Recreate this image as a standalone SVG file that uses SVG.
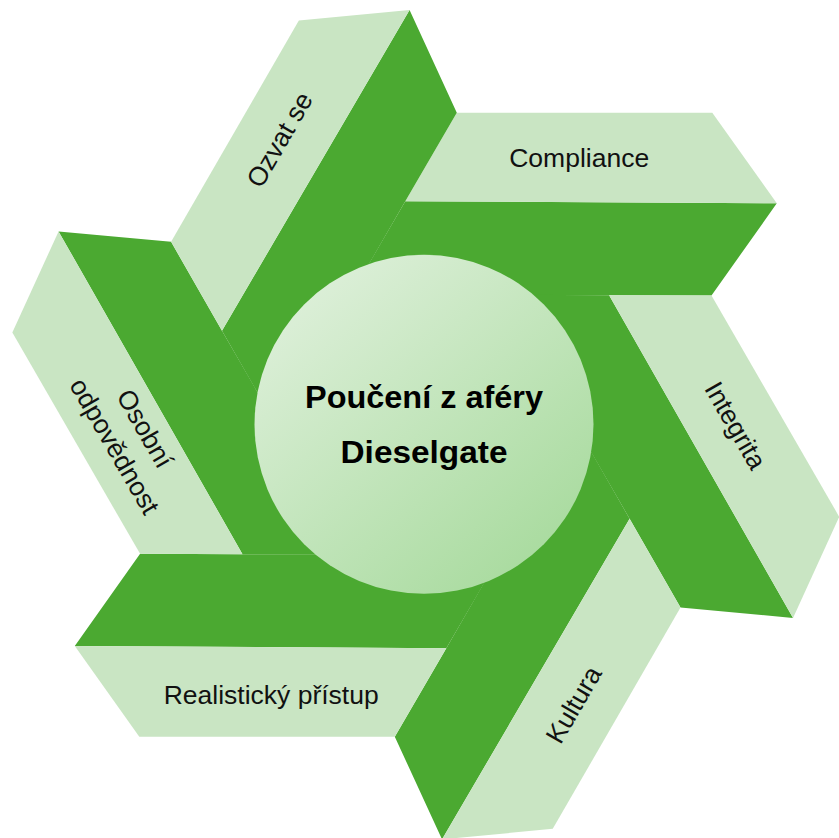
<svg xmlns="http://www.w3.org/2000/svg" width="839" height="838" viewBox="0 0 839 838">
<defs>
<linearGradient id="cg" x1="0.15" y1="0.1" x2="0.85" y2="0.9">
<stop offset="0" stop-color="#dcefd8"/>
<stop offset="1" stop-color="#a9db9f"/>
</linearGradient>
<polygon id="top" points="31,-312 286.5,-312 351,-221.4 -20.5,-223.5"/>
<polygon id="side" points="-20.5,-223.5 351,-221.4 285.7,-129.15 183.3,-129.5 -75.2,-129.5"/>
</defs>
<style>
.top{fill:#c9e5c3}
.side{fill:#4ba931}
.lbl{font-family:"Liberation Sans",Arial,sans-serif;font-size:26.5px;fill:#111;text-anchor:middle}
.ttl{font-family:"Liberation Sans",Arial,sans-serif;font-size:31px;font-weight:bold;fill:#000;text-anchor:middle}
</style>
<rect width="839" height="838" fill="#fff"/>
<g id="arm-compliance">
<use href="#side" class="side" transform="translate(425.8,424.7) rotate(0)"/>
<use href="#top" class="top" transform="translate(425.8,424.7) rotate(0)"/>
<text class="lbl" x="579.2" y="166.7">Compliance</text>
</g>
<g id="arm-integrita">
<use href="#side" class="side" transform="translate(425.8,424.7) rotate(60)"/>
<use href="#top" class="top" transform="translate(425.8,424.7) rotate(60)"/>
<text class="lbl" transform="translate(735,425.8) rotate(60)" x="0" y="8.5">Integrita</text>
</g>
<g id="arm-kultura">
<use href="#side" class="side" transform="translate(425.8,424.7) rotate(120)"/>
<use href="#top" class="top" transform="translate(425.8,424.7) rotate(120)"/>
<text class="lbl" transform="translate(574.2,705) rotate(-60)" x="0" y="8.5">Kultura</text>
</g>
<g id="arm-realisticky">
<use href="#side" class="side" transform="translate(425.8,424.7) rotate(180)"/>
<use href="#top" class="top" transform="translate(425.8,424.7) rotate(180)"/>
<text class="lbl" x="271.2" y="704">Realistický přístup</text>
</g>
<g id="arm-osobni">
<use href="#side" class="side" transform="translate(425.8,424.7) rotate(240)"/>
<use href="#top" class="top" transform="translate(425.8,424.7) rotate(240)"/>
<text class="lbl" transform="translate(129.3,437.6) rotate(60)"><tspan x="0" y="-9">Osobní</tspan><tspan x="0" y="26">odpovědnost</tspan></text>
</g>
<g id="arm-ozvat">
<use href="#side" class="side" transform="translate(425.8,424.7) rotate(300)"/>
<use href="#top" class="top" transform="translate(425.8,424.7) rotate(300)"/>
<text class="lbl" transform="translate(280,140) rotate(-60)" x="0" y="8.5">Ozvat se</text>
</g>
<g id="center">
<circle cx="424" cy="424.3" r="169.5" fill="url(#cg)"/>
<text class="ttl" x="424" y="408" textLength="238" lengthAdjust="spacingAndGlyphs">Poučení z aféry</text>
<text class="ttl" x="424" y="463.3" textLength="167" lengthAdjust="spacingAndGlyphs">Dieselgate</text>
</g>
</svg>
